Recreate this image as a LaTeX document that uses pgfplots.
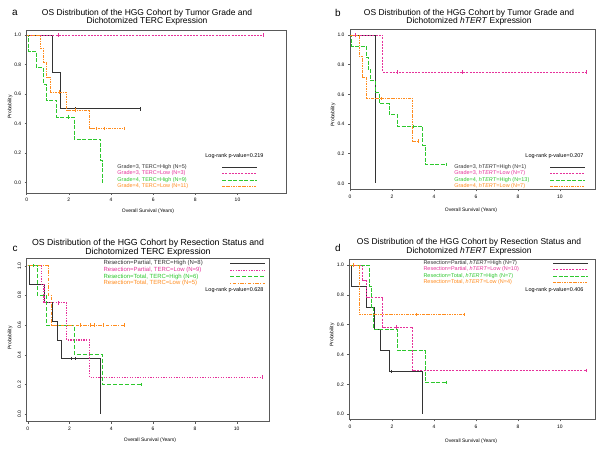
\documentclass[border=0pt]{standalone}
\usepackage{pgfplots}
\pgfplotsset{compat=1.18}
\usepackage{fontspec}
\setmainfont{Liberation Sans}
\definecolor{kmblack}{HTML}{333333}
\definecolor{kmmag}{HTML}{E6329B}
\definecolor{kmgreen}{HTML}{2DC82D}
\definecolor{kmorange}{HTML}{FF8C1E}
\newcommand\lgent[3]{\makebox[#1][l]{\textcolor{#2}{#3}}}
\tikzset{
 sblack/.style={color=kmblack, solid, line width=0.7bp, mark=none, const plot},
 smag/.style={color=kmmag, dash pattern=on 2bp off 1.2bp, line width=0.75bp, mark=none, const plot},
 sgreen/.style={color=kmgreen, dash pattern=on 4bp off 1.5bp, line width=0.75bp, mark=none, const plot},
 sorange/.style={color=kmorange, dash pattern=on 2.5bp off 1bp on 0.8bp off 1bp, line width=0.7bp, mark=none, const plot},
 rblack/.style={color=kmblack, solid, line width=0.9bp, mark=none, const plot},
 rmag/.style={color=kmmag, dash pattern=on 1.3bp off 1.3bp, line width=1.1bp, mark=none, const plot},
 rgreen/.style={color=kmgreen, dash pattern=on 4bp off 2bp, line width=0.9bp, mark=none, const plot},
 rorange/.style={color=kmorange, dash pattern=on 1bp off 1.5bp on 3.5bp off 1.5bp, line width=0.9bp, mark=none, const plot},
}
\pgfplotsset{
 km/.style={scale only axis, anchor=south west,
   axis line style={line width=0.6bp, black!65},
   tick style={black!65, line width=0.4bp}, tick align=outside, major tick length=2bp,
   xtick={0,2,4,6,8,10}, ytick={0,0.2,0.4,0.6,0.8,1},
   xtick pos=bottom, ytick pos=left,
   ticklabel style={font=\fontsize{5}{6}\selectfont},
   /pgf/number format/assume math mode=true,
   yticklabel style={/pgf/number format/fixed, /pgf/number format/fixed zerofill, /pgf/number format/precision=1},
   legend plot pos=right, legend cell align=left,
   legend style={draw=none, fill=none, font=\fontsize{5.5}{6}\selectfont, anchor=north west,
     row sep=0.3bp, inner sep=0pt, column sep=0pt, nodes={inner sep=0.3bp}},
   legend image code/.code={\draw[#1] (0bp,0bp) -- (35bp,0bp);}},
 cens/.style={only marks, mark=|, mark size=1.7bp, forget plot, mark options={solid, line width=0.5bp}},
}
\begin{document}
\begin{tikzpicture}
\path[use as bounding box, fill=white] (0bp,0bp) rectangle (603bp,452bp);

% ---------------- panel a
\begin{axis}[km, at={(26.7bp,259bp)}, width=259.3bp, height=163bp,
  xmin=0, xmax=12.3, ymin=-0.07, ymax=1.034,
  legend style={at={(0.348,0.178)}}]
\addplot[sblack] coordinates {(0,1)(1.2,0.75)(1.6,0.5)(5.4,0.5)};
\addlegendentry{\lgent{104bp}{kmblack}{Grade=3, TERC=High (N=5)}}
\addplot[smag] coordinates {(0,1)(11.2,1)};
\addlegendentry{\lgent{104bp}{kmmag}{Grade=3, TERC=Low (N=3)}}
\addplot[sgreen] coordinates {(0,1)(0.1,0.889)(0.47,0.778)(0.79,0.667)(0.92,0.556)(1.43,0.444)(2.25,0.296)(3.49,0.148)(3.6,0)};
\addlegendentry{\lgent{104bp}{kmgreen}{Grade=4, TERC=High (N=9)}}
\addplot[sorange] coordinates {(0,1)(0.63,0.909)(0.8,0.818)(0.95,0.716)(1.1,0.614)(1.9,0.491)(2.98,0.368)(4.63,0.368)};
\addlegendentry{\lgent{104bp}{kmorange}{Grade=4, TERC=Low (N=11)}}
\addplot[sblack,cens] coordinates {(2.3,0.5)(5.4,0.5)};
\addplot[smag,cens] coordinates {(1.5,1)(11.2,1)};
\addplot[sgreen,cens] coordinates {(1.97,0.444)};
\addplot[sorange,cens] coordinates {(1.55,0.614)(2.3,0.491)(3.3,0.368)(3.7,0.368)(4.63,0.368)};
\end{axis}

% ---------------- panel b
\begin{axis}[km, at={(350bp,262.7bp)}, width=245bp, height=160bp,
  xmin=0, xmax=11.67, ymin=-0.04, ymax=1.038,
  legend style={at={(0.424,0.158)}}]
\addplot[sblack] coordinates {(0,1)(1.19,0)};
\addlegendentry{\lgent{95bp}{kmblack}{Grade=3, \textit{hTERT}=High (N=1)}}
\addplot[smag] coordinates {(0,1)(1.56,0.75)(11.24,0.75)};
\addlegendentry{\lgent{95bp}{kmmag}{Grade=3, \textit{hTERT}=Low (N=7)}}
\addplot[sgreen] coordinates {(0,1)(0.08,0.923)(0.76,0.846)(0.87,0.769)(0.98,0.692)(1.19,0.615)(1.4,0.538)(1.87,0.462)(2.25,0.385)(3.46,0.257)(3.57,0.128)(4.6,0.128)};
\addlegendentry{\lgent{95bp}{kmgreen}{Grade=4, \textit{hTERT}=High (N=13)}}
\addplot[sorange] coordinates {(0,1)(0.44,0.857)(0.6,0.714)(0.76,0.571)(2.98,0.286)(3.27,0.286)};
\addlegendentry{\lgent{95bp}{kmorange}{Grade=4, \textit{hTERT}=Low (N=7)}}
\addplot[smag,cens] coordinates {(0.24,1)(2.25,0.75)(5.35,0.75)(11.24,0.75)};
\addplot[sgreen,cens] coordinates {(3.0,0.385)(4.6,0.128)};
\addplot[sorange,cens] coordinates {(1.5,0.571)(3.27,0.286)};
\end{axis}

% ---------------- panel c
\begin{axis}[km, at={(26.7bp,30.3bp)}, width=242.6bp, height=163.4bp,
  xmin=-0.05, xmax=11.56, ymin=-0.05, ymax=1.05,
  yticklabel style={rotate=90, anchor=south},
  legend style={at={(0.315,0.99)}, font=\fontsize{6}{6}\selectfont}]
\addplot[rblack] coordinates {(0,1)(0.08,0.875)(0.8,0.75)(1.2,0.625)(1.44,0.5)(1.6,0.375)(3.46,0)};
\addlegendentry{\lgent{126bp}{kmblack}{Resection=Partial, TERC=High (N=8)}}
\addplot[rmag] coordinates {(0,1)(0.64,0.875)(0.78,0.75)(1.87,0.5)(2.95,0.25)(11.2,0.25)};
\addlegendentry{\lgent{126bp}{kmmag}{Resection=Partial, TERC=Low (N=9)}}
\addplot[rgreen] coordinates {(0,1)(0.46,0.8)(0.9,0.6)(2.23,0.4)(3.59,0.2)(5.45,0.2)};
\addlegendentry{\lgent{126bp}{kmgreen}{Resection=Total, TERC=High (N=6)}}
\addplot[rorange] coordinates {(0,1)(0.99,0.8)(1.15,0.6)(4.6,0.6)};
\addlegendentry{\lgent{126bp}{kmorange}{Resection=Total, TERC=Low (N=5)}}
\addplot[rblack,cens] coordinates {(2.1,0.375)(2.26,0.375)};
\addplot[rmag,cens] coordinates {(1.47,0.75)(11.2,0.25)};
\addplot[rgreen,cens] coordinates {(0.27,1)(5.45,0.2)};
\addplot[rorange,cens] coordinates {(2.5,0.6)(2.97,0.6)(3.2,0.6)(3.6,0.6)(4.6,0.6)};
\end{axis}

% ---------------- panel d
\begin{axis}[km, at={(349.3bp,32.7bp)}, width=245.7bp, height=160bp,
  xmin=-0.03, xmax=11.67, ymin=-0.034, ymax=1.038,
  legend style={at={(0.30,0.996)}}]
\addplot[sblack] coordinates {(0,1)(0.08,0.857)(0.76,0.714)(1.14,0.571)(1.43,0.429)(1.87,0.286)(3.46,0)};
\addlegendentry{\lgent{129bp}{kmblack}{Resection=Partial, \textit{hTERT}=High (N=7)}}
\addplot[smag] coordinates {(0,1)(0.6,0.9)(0.8,0.78)(1.56,0.585)(2.98,0.293)(11.24,0.293)};
\addlegendentry{\lgent{129bp}{kmmag}{Resection=Partial, \textit{hTERT}=Low (N=10)}}
\addplot[sgreen] coordinates {(0,1)(0.92,0.857)(1.0,0.714)(1.14,0.571)(2.25,0.429)(3.57,0.214)(4.6,0.214)};
\addlegendentry{\lgent{129bp}{kmgreen}{Resection=Total, \textit{hTERT}=High (N=7)}}
\addplot[sorange] coordinates {(0,1)(0.44,0.667)(5.43,0.667)};
\addlegendentry{\lgent{129bp}{kmorange}{Resection=Total, \textit{hTERT}=Low (N=4)}}
\addplot[sblack,cens] coordinates {(1.98,0.286)};
\addplot[smag,cens] coordinates {(2.22,0.585)(11.24,0.293)};
\addplot[sgreen,cens] coordinates {(4.6,0.214)};
\addplot[sorange,cens] coordinates {(0.16,1)(3.17,0.667)(5.43,0.667)};
\end{axis}

% ---------------- titles and labels
\tikzset{ttl/.style={font=\fontsize{8.5}{8.6}\selectfont, align=center},
  let/.style={font=\fontsize{10}{10}\selectfont},
  alab/.style={font=\fontsize{5}{6}\selectfont},
  pv/.style={font=\fontsize{5.5}{6}\selectfont, anchor=east}}
\node[ttl] at (147bp,434.5bp) {OS Distribution of the HGG Cohort by Tumor Grade and\\Dichotomized TERC Expression};
\node[ttl] at (469bp,434.5bp) {OS Distribution of the HGG Cohort by Tumor Grade and\\Dichotomized \textit{hTERT} Expression};
\node[ttl, font=\fontsize{8.8}{8.8}\selectfont] at (148bp,204.5bp) {OS Distribution of the HGG Cohort by Resection Status and\\Dichotomized TERC Expression};
\node[ttl] at (469bp,205.3bp) {OS Distribution of the HGG Cohort by Resection Status and\\Dichotomized \textit{hTERT} Expression};
\node[let] at (15bp,439bp) {a};
\node[let] at (338bp,439bp) {b};
\node[let] at (15bp,203bp) {c};
\node[let] at (338bp,204bp) {d};
\node[alab] at (148bp,241bp) {Overall Survival (Years)};
\node[alab] at (471bp,241.3bp) {Overall Survival (Years)};
\node[alab] at (150bp,12bp) {Overall Survival (Years)};
\node[alab] at (471bp,11bp) {Overall Survival (Years)};
\node[alab, rotate=90] at (10bp,345bp) {Probability};
\node[alab, rotate=90] at (333bp,337bp) {Probability};
\node[alab, rotate=90] at (10bp,114bp) {Probability};
\node[alab, rotate=90] at (332bp,117bp) {Probability};
\node[pv] at (267bp,296bp) {Log-rank p-value=0.219};
\node[pv] at (587bp,296bp) {Log-rank p-value=0.207};
\node[pv] at (267bp,162bp) {Log-rank p-value=0.628};
\node[pv] at (587bp,162bp) {Log-rank p-value=0.406};
\end{tikzpicture}
\end{document}
